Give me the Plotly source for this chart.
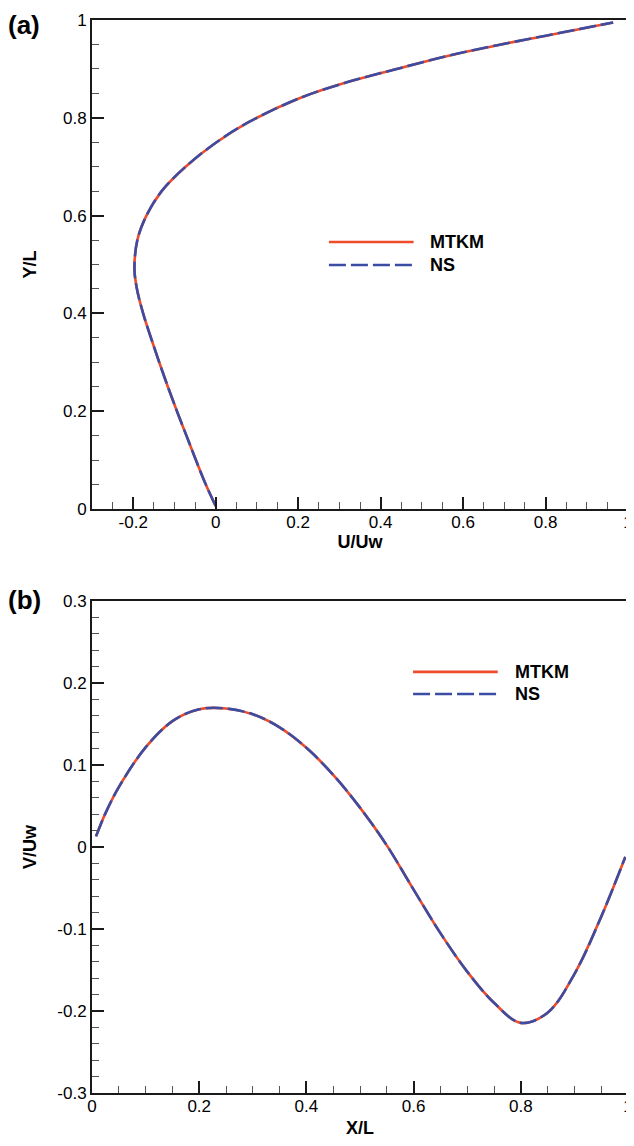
import plotly.graph_objects as go
from plotly.subplots import make_subplots

# ---------------- data ----------------
# (a) U/Uw along the vertical centreline
a_Y = [0.006, 0.05, 0.10, 0.15, 0.20, 0.25, 0.30, 0.35, 0.40, 0.45, 0.49,
       0.55, 0.60, 0.65, 0.70, 0.75, 0.792, 0.84, 0.874, 0.901, 0.927, 0.949, 0.969, 0.995]
a_U_mtkm = [0.000, -0.024, -0.048, -0.071, -0.094, -0.116, -0.137, -0.157, -0.176, -0.191,
            -0.197, -0.190, -0.168, -0.131, -0.073, 0.002, 0.082, 0.203, 0.324,
            0.444, 0.565, 0.686, 0.807, 0.964]
a_U_ns = [0.000, -0.024, -0.048, -0.071, -0.094, -0.116, -0.137, -0.157, -0.176, -0.191,
          -0.197, -0.190, -0.168, -0.131, -0.073, 0.002, 0.082, 0.203, 0.324,
          0.444, 0.565, 0.686, 0.807, 0.964]

# (b) V/Uw along the horizontal centreline
b_X = [0.0075, 0.025, 0.05, 0.10, 0.15, 0.20, 0.25, 0.30, 0.35, 0.40, 0.45, 0.50,
       0.55, 0.60, 0.65, 0.70, 0.75, 0.80, 0.85, 0.90, 0.95, 0.995]
b_V_mtkm = [0.013, 0.041, 0.073, 0.1215, 0.1535, 0.168, 0.169, 0.162, 0.146, 0.121, 0.088,
            0.048, 0.002, -0.052, -0.105, -0.152, -0.190, -0.2145, -0.202, -0.155, -0.085, -0.012]
b_V_ns = [0.013, 0.041, 0.073, 0.1215, 0.1535, 0.168, 0.169, 0.162, 0.146, 0.121, 0.088,
          0.048, 0.002, -0.052, -0.105, -0.152, -0.190, -0.2145, -0.202, -0.155, -0.085, -0.012]

series_names = ["MTKM", "NS"]

a_x_ticks = [-0.2, 0, 0.2, 0.4, 0.6, 0.8, 1]
a_x_labels = ["-0.2", "0", "0.2", "0.4", "0.6", "0.8", "1"]
a_y_ticks = [0, 0.2, 0.4, 0.6, 0.8, 1]
a_y_labels = ["0", "0.2", "0.4", "0.6", "0.8", "1"]
b_x_ticks = [0, 0.2, 0.4, 0.6, 0.8, 1]
b_x_labels = ["0", "0.2", "0.4", "0.6", "0.8", "1"]
b_y_ticks = [-0.3, -0.2, -0.1, 0, 0.1, 0.2, 0.3]
b_y_labels = ["-0.3", "-0.2", "-0.1", "0", "0.1", "0.2", "0.3"]

# ---------------- styling ----------------
RED = "#EE4B2B"
BLUE = "#3B4DA2"
FONT = "Liberation Sans, Arial, sans-serif"
LW = 2.6
DASH = "17px,5px"

fig = make_subplots(rows=2, cols=1)

fig.add_trace(go.Scatter(x=a_U_mtkm, y=a_Y, mode="lines", name=series_names[0],
                         line=dict(color=RED, width=LW, shape="spline", smoothing=1.0), showlegend=False), row=1, col=1)
fig.add_trace(go.Scatter(x=a_U_ns, y=a_Y, mode="lines", name=series_names[1],
                         line=dict(color=BLUE, width=LW, dash=DASH, shape="spline", smoothing=1.0), showlegend=False), row=1, col=1)
fig.add_trace(go.Scatter(x=b_X, y=b_V_mtkm, mode="lines", name=series_names[0],
                         line=dict(color=RED, width=LW, shape="spline", smoothing=1.0), showlegend=False), row=2, col=1)
fig.add_trace(go.Scatter(x=b_X, y=b_V_ns, mode="lines", name=series_names[1],
                         line=dict(color=BLUE, width=LW, dash=DASH, shape="spline", smoothing=1.0), showlegend=False), row=2, col=1)

tickfont = dict(family=FONT, size=17, color="black")
titlefont = dict(family=FONT, size=18, color="black")

common = dict(showgrid=False, zeroline=False, showline=True, linecolor="#1a1a1a", linewidth=2,
              mirror=True, ticks="inside", ticklen=12, tickwidth=1.5, tickcolor="#1a1a1a",
              tickfont=tickfont, automargin=False,
              minor=dict(ticks="inside", ticklen=7, tickwidth=1.2, tickcolor="#555", showgrid=False))

fig.update_xaxes(common, ticklabelstandoff=-3)
fig.update_yaxes(common, ticklabelstandoff=0)

fig.update_xaxes(range=[-0.3, 1], tickvals=a_x_ticks, ticktext=a_x_labels,
                 minor_dtick=0.05, minor_tick0=0, domain=[0, 1],
                 title=dict(text="<b>U/Uw</b>", font=titlefont, standoff=2), row=1, col=1)
fig.update_yaxes(range=[0, 1], tickvals=a_y_ticks, ticktext=a_y_labels,
                 minor_dtick=0.05, minor_tick0=0, domain=[0.5443, 1],
                 title=dict(text="<b>Y/L</b>", font=titlefont, standoff=22), row=1, col=1)
fig.update_xaxes(range=[0, 1], tickvals=b_x_ticks, ticktext=b_x_labels,
                 minor_dtick=0.05, minor_tick0=0, domain=[0, 1],
                 title=dict(text="<b>X/L</b>", font=titlefont, standoff=18), row=2, col=1)
fig.update_yaxes(range=[-0.3, 0.3], tickvals=b_y_ticks, ticktext=b_y_labels,
                 minor_dtick=0.02, minor_tick0=0, domain=[0, 0.4585],
                 title=dict(text="<b>V/Uw</b>", font=titlefont, standoff=16), row=2, col=1)

# ---------------- in-plot legends (sample lines + labels) ----------------
legend_font = dict(family=FONT, size=18, color="black")
legends = [
    # (xref, yref, x0, x1, xtext, y_first, y_second)
    ("x domain", "y domain", 0.442, 0.600, 0.626, 0.546, 0.499),
    ("x2 domain", "y2 domain", 0.599, 0.757, 0.786, 0.856, 0.811),
]
for xr, yr, x0, x1, xt, y1, y2 in legends:
    fig.add_shape(type="line", xref=xr, yref=yr, x0=x0, x1=x1, y0=y1, y1=y1,
                  line=dict(color=RED, width=LW))
    fig.add_shape(type="line", xref=xr, yref=yr, x0=x0, x1=x1, y0=y2, y1=y2,
                  line=dict(color=BLUE, width=LW, dash=DASH))
    fig.add_annotation(xref=xr, yref=yr, x=xt, y=y1, text="<b>" + series_names[0] + "</b>",
                       showarrow=False, xanchor="left", yanchor="middle", font=legend_font)
    fig.add_annotation(xref=xr, yref=yr, x=xt, y=y2, text="<b>" + series_names[1] + "</b>",
                       showarrow=False, xanchor="left", yanchor="middle", font=legend_font)

# panel letters
letter_font = dict(family=FONT, size=26, color="black")
fig.add_annotation(xref="paper", yref="paper", x=-0.16, y=1 + 12 / 1073, text="<b>(a)</b>",
                   showarrow=False, xanchor="left", yanchor="top", font=letter_font)
fig.add_annotation(xref="paper", yref="paper", x=-0.16, y=0.4585 + 1 / 1073, text="<b>(b)</b>",
                   showarrow=False, xanchor="left", yanchor="middle", font=letter_font)

# the page body adds an 8px offset, so the figure is sized to fit the 634x1146 window
fig.update_layout(width=626, height=1130, margin=dict(l=84, r=6, t=12, b=45),
                  plot_bgcolor="white", paper_bgcolor="white", showlegend=False)

fig.write_html("out.html")
